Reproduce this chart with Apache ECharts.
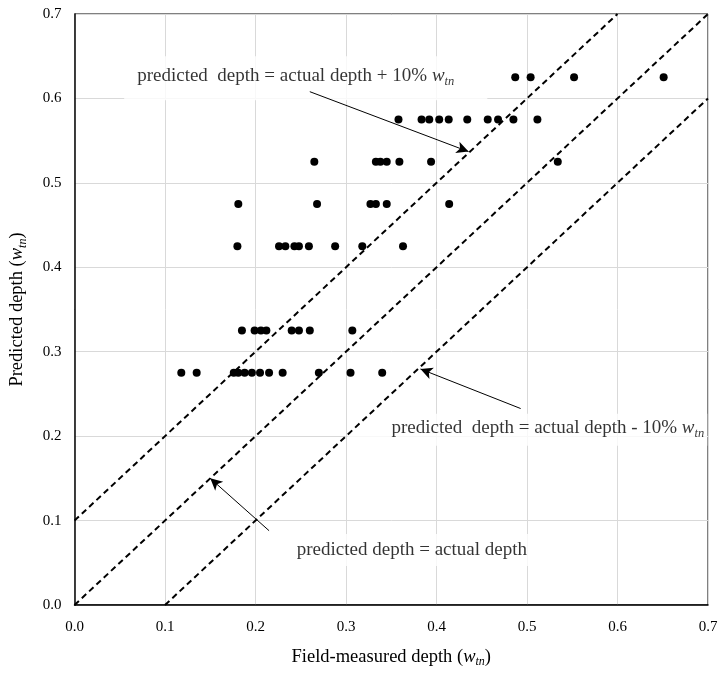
<!DOCTYPE html>
<html>
<head>
<meta charset="utf-8">
<script src="https://cdn.jsdelivr.net/npm/echarts@6/dist/echarts.min.js"></script>
<style>html,body{margin:0;padding:0;background:#fff}#c{width:722px;height:673px}</style>
</head>
<body>
<div id="c"></div>
<script>
// Predicted depth levels (w_tn) and the field-measured depths observed at each level
const predLevels = [0.275, 0.325, 0.425, 0.475, 0.525, 0.575, 0.625];
const measured275 = [0.118, 0.135, 0.176, 0.181, 0.188, 0.196, 0.205, 0.215, 0.23, 0.27, 0.305, 0.34];
const measured325 = [0.185, 0.199, 0.206, 0.212, 0.24, 0.248, 0.26, 0.307];
const measured425 = [0.18, 0.226, 0.233, 0.243, 0.248, 0.259, 0.288, 0.318, 0.363];
const measured475 = [0.181, 0.268, 0.327, 0.333, 0.345, 0.414];
const measured525 = [0.265, 0.333, 0.338, 0.345, 0.359, 0.394, 0.534];
const measured575 = [0.358, 0.3835, 0.392, 0.403, 0.4135, 0.434, 0.4566, 0.468, 0.485, 0.5115];
const measured625 = [0.487, 0.504, 0.552, 0.651];
const measuredRows = [measured275, measured325, measured425, measured475, measured525, measured575, measured625];

// Reference lines: predicted = actual + offset
const lineOffsets = [0.1, 0, -0.1];
const axisMin = 0, axisMax = 0.7, axisStep = 0.1;

const noteTexts = [
  'predicted  depth = actual depth + 10% ',
  'predicted  depth = actual depth - 10% ',
  'predicted depth = actual depth'
];
const xTitle = 'Field-measured depth ';
const yTitle = 'Predicted depth ';

const points = [];
measuredRows.forEach((row, i) => row.forEach(x => points.push([x, predLevels[i]])));

function refLine(off) {
  const x0 = Math.max(axisMin, axisMin - off);
  const x1 = Math.min(axisMax, axisMax - off);
  return [[x0, x0 + off], [x1, x1 + off]];
}

const FONT = '"Liberation Serif", "Times New Roman", serif';
const rich = {
  t: {fontFamily: FONT, fontSize: 19, color: '#000', lineHeight: 24},
  w: {fontFamily: FONT, fontSize: 19, fontStyle: 'italic', color: '#000', lineHeight: 24},
  s: {fontFamily: FONT, fontSize: 12.5, fontStyle: 'italic', color: '#000', lineHeight: 24, verticalAlign: 'bottom'}
};
const richAxis = {
  t: {fontFamily: FONT, fontSize: 18.5, color: '#000', lineHeight: 22},
  w: {fontFamily: FONT, fontSize: 18.5, fontStyle: 'italic', color: '#000', lineHeight: 22},
  s: {fontFamily: FONT, fontSize: 12, fontStyle: 'italic', color: '#000', lineHeight: 22, verticalAlign: 'bottom'}
};

function noteSeries(coord, text, withSub, labelOpts) {
  return {
    type: 'scatter', symbolSize: 0, silent: true, z: 4,
    data: [coord],
    label: Object.assign({
      show: true, position: [0, 0], align: 'left', verticalAlign: 'middle',
      backgroundColor: '#fff',
      formatter: withSub ? '{t|' + text + '}{w|w}{s|tn}' : '{t|' + text + '}',
      rich: rich
    }, labelOpts)
  };
}

const chart = echarts.init(document.getElementById('c'), null, {renderer: 'canvas'});
chart.setOption({
  animation: false,
  backgroundColor: '#fff',
  grid: {left: 70, right: 14, top: 14, bottom: 61, show: true, borderColor: '#000', borderWidth: 1},
  xAxis: {
    type: 'value', min: axisMin, max: axisMax, interval: axisStep,
    name: '{t|' + xTitle + '(}{w|w}{s|tn}{t|)}', nameLocation: 'middle', nameGap: 41,
    nameTextStyle: {rich: richAxis},
    axisLine: {lineStyle: {color: '#000', width: 1.5}},
    axisTick: {show: false},
    axisLabel: {fontFamily: FONT, fontSize: 15, color: '#000', margin: 15, formatter: v => v.toFixed(1)},
    splitLine: {lineStyle: {color: '#d9d9d9', width: 1}}
  },
  yAxis: {
    type: 'value', min: axisMin, max: axisMax, interval: axisStep,
    name: '{t|' + yTitle + '(}{w|w}{s|tn}{t|)}', nameLocation: 'middle', nameGap: 46,
    nameRotate: 90,
    nameTextStyle: {rich: richAxis},
    axisLine: {lineStyle: {color: '#000', width: 1.5}},
    axisTick: {show: false},
    axisLabel: {fontFamily: FONT, fontSize: 15, color: '#000', margin: 13, formatter: v => v.toFixed(1)},
    splitLine: {lineStyle: {color: '#d9d9d9', width: 1}}
  },
  series: [
    noteSeries([0.0549, 0.6239], noteTexts[0], true, {padding: [8, 33, 12, 13]}),
    noteSeries([0.3017, 0.2075], noteTexts[1], true, {padding: [2, 3, 6, 44]}),
    noteSeries([0.239, 0.065], noteTexts[2], false, {padding: [4, 6, 4, 6]}),
    ...lineOffsets.map(off => ({
      type: 'line', data: refLine(off), symbol: 'none', silent: true, z: 6,
      lineStyle: {color: '#000', width: 2, type: [6, 4]}
    })),
    {
      type: 'scatter', data: points, symbol: 'circle', symbolSize: 8, z: 7,
      itemStyle: {color: '#000', opacity: 1},
      markLine: {
        silent: true, symbol: ['none', 'arrow'], symbolSize: [9, 12], label: {show: false},
        lineStyle: {color: '#000', width: 1, type: 'solid', opacity: 1},
        data: [
          [{coord: [0.26, 0.608]}, {coord: [0.4354, 0.537]}],
          [{coord: [0.493, 0.2327]}, {coord: [0.3823, 0.2795]}],
          [{coord: [0.215, 0.088]}, {coord: [0.15, 0.15]}]
        ]
      }
    }
  ]
});
</script>
</body>
</html>
